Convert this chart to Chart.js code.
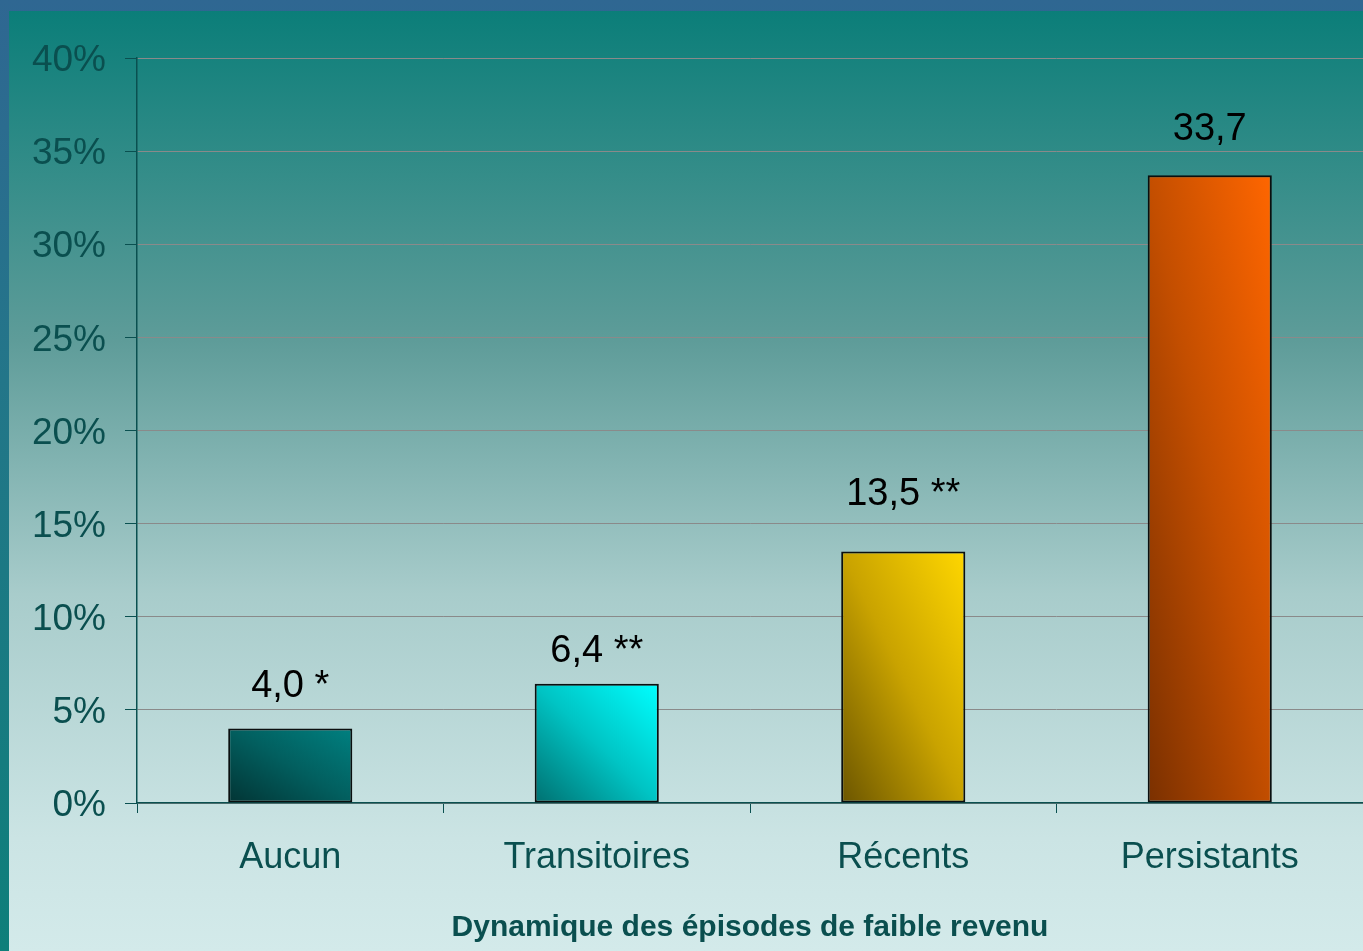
<!DOCTYPE html>
<html>
<head>
<meta charset="utf-8">
<script src="https://cdn.jsdelivr.net/npm/chart.js@4"></script>
<style>
  html, body { margin: 0; padding: 0; }
  body {
    width: 1363px; height: 951px; position: relative; overflow: hidden;
    background: linear-gradient(to bottom, #2f6792 0%, #237689 40%, #0e7f7a 100%);
  }
  #panel {
    position: absolute; left: 9px; top: 11px; right: 0; bottom: 0;
    background: linear-gradient(to bottom, #0b7e79 0%, #5e9c99 35%, #a8cccb 62%, #cbe4e4 88%, #d3eaea 100%);
  }
  #myChart { position: absolute; left: 0; top: 0; }
</style>
</head>
<body>
<div id="panel"></div>
<canvas id="myChart" width="1363" height="951"></canvas>
<script>
const categories = ["Aucun", "Transitoires", "Récents", "Persistants"];
const values = [4.0, 6.4, 13.5, 33.7];
const stars = ["*", "**", "**", ""];
const yTicks = [0, 5, 10, 15, 20, 25, 30, 35, 40];

// gradient ends: bottom-left dark, middle, top-right light
const barColors = [
    ["#023434", "#025e5e", "#008080"],
    ["#007070", "#00c4c4", "#00ffff"],
    ["#6b5500", "#c9a300", "#ffd700"],
    ["#7a3000", "#c34e00", "#ff6600"]
];
const labelGap = [32, 22, 47, 35];
const tealText = "#0a4f4f";
const barPct = 0.405;

function barGradient(ctx) {
    const chart = ctx.chart;
    const i = ctx.dataIndex;
    if (!chart.chartArea || !chart.scales.x) return barColors[i][2];
    const xs = chart.scales.x, ys = chart.scales.y;
    const w = xs.width / categories.length * barPct;
    const x0 = xs.getPixelForValue(i) - w / 2;
    const yb = ys.getPixelForValue(0);
    const h = yb - ys.getPixelForValue(values[i]);
    // diagonal gradient in shape-normalised coordinates
    const k = 2 * w * h / (w * w + h * h);
    const g = chart.ctx.createLinearGradient(x0, yb, x0 + h * k, yb - w * k);
    g.addColorStop(0, barColors[i][0]);
    g.addColorStop(0.5, barColors[i][1]);
    g.addColorStop(1, barColors[i][2]);
    return g;
}

const valueLabels = {
    id: "valueLabels",
    afterDatasetsDraw(chart) {
        const ctx = chart.ctx;
        const meta = chart.getDatasetMeta(0);
        ctx.save();
        ctx.font = "38px 'Liberation Sans', Arial, sans-serif";
        ctx.fillStyle = "#000";
        ctx.textAlign = "center";
        ctx.textBaseline = "alphabetic";
        meta.data.forEach((bar, i) => {
            let txt = values[i].toFixed(1).replace(".", ",");
            if (stars[i]) txt += " " + stars[i];
            ctx.fillText(txt, bar.x, bar.y - labelGap[i]);
        });
        ctx.restore();
    }
};

new Chart("myChart", {
    type: "bar",
    data: {
        labels: categories,
        datasets: [{
            data: values,
            backgroundColor: barGradient,
            borderColor: "#0a0f0f",
            borderWidth: 2,
            borderSkipped: false,
            categoryPercentage: 1,
            barPercentage: barPct
        }]
    },
    options: {
        responsive: false,
        animation: false,
        layout: { padding: { top: 58, right: 0, left: 0, bottom: 0 } },
        plugins: {
            legend: { display: false },
            tooltip: { enabled: false }
        },
        scales: {
            x: {
                afterFit(scale) { scale.height = 148; },
                grid: {
                    drawOnChartArea: false,
                    tickLength: 10,
                    tickColor: "#0a5050",
                    offset: true
                },
                border: { color: "#0a5050", width: 1.5 },
                ticks: {
                    color: tealText,
                    padding: 23,
                    font: { family: "'Liberation Sans', Arial, sans-serif", size: 36 }
                },
                title: {
                    display: true,
                    text: "Dynamique des épisodes de faible revenu",
                    color: tealText,
                    padding: { top: 0, bottom: 5 },
                    font: { family: "'Liberation Sans', Arial, sans-serif", size: 30, weight: "bold" }
                }
            },
            y: {
                min: 0,
                max: 40,
                afterFit(scale) { scale.width = 137; },
                afterBuildTicks(scale) { scale.ticks = yTicks.map(v => ({ value: v })); },
                grid: {
                    color: "#8a8a8a",
                    lineWidth: 1,
                    tickLength: 12,
                    tickColor: "#0a5050"
                },
                border: { color: "#0a5050", width: 1.5 },
                ticks: {
                    color: tealText,
                    padding: 19,
                    labelOffset: 3,
                    callback: v => v + "%",
                    font: { family: "'Liberation Sans', Arial, sans-serif", size: 37 }
                }
            }
        }
    },
    plugins: [valueLabels]
});
</script>
</body>
</html>
